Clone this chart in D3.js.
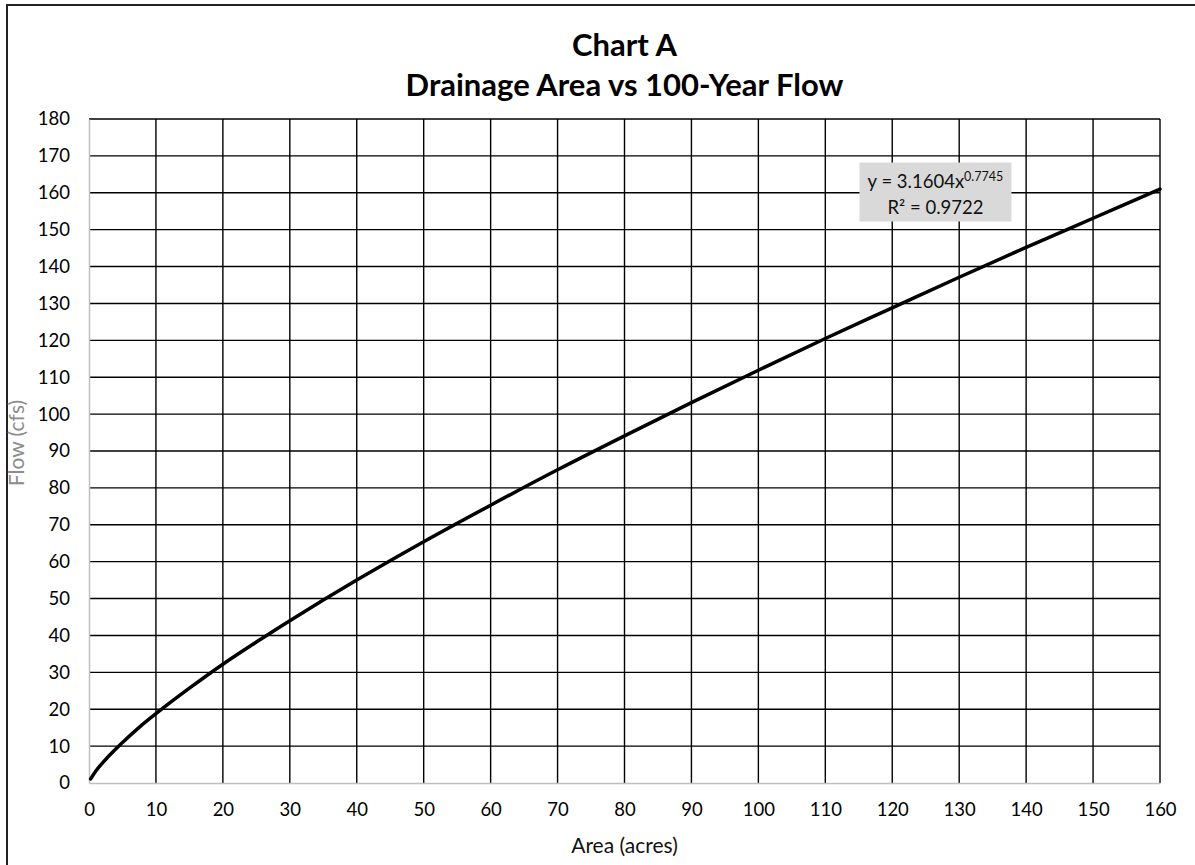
<!DOCTYPE html>
<html>
<head>
<meta charset="utf-8">
<script src="https://cdn.jsdelivr.net/npm/d3@7"></script>
<style>
    html, body { margin: 0; padding: 0; background: #fff; }
    svg { display: block; font-family: Lato, "Open Sans", sans-serif; }
</style>
</head>
<body>
<div id="chart"></div>
<script>
const areaAcres = [0.25, 1, 2, 3, 5, 7.5, 10, 15, 20, 25, 30, 40, 50, 60, 70, 80, 90, 100, 110, 120, 130, 140, 150, 160];
const flowCfs   = [1.1, 3.2, 5.4, 7.4, 11.0, 15.1, 18.8, 25.7, 32.2, 38.2, 44.0, 55.0, 65.4, 75.3, 84.9, 94.1, 103.1, 111.9, 120.5, 128.8, 137.1, 145.2, 153.1, 161.0];

const xTicks = [0, 10, 20, 30, 40, 50, 60, 70, 80, 90, 100, 110, 120, 130, 140, 150, 160];
const yTicks = [0, 10, 20, 30, 40, 50, 60, 70, 80, 90, 100, 110, 120, 130, 140, 150, 160, 170, 180];

const titleLines = ['Chart A', 'Drainage Area vs 100-Year Flow'];
const fitLabel = { coef: '3.1604', exp: '0.7745', r2: '0.9722' };

// Layout
const width = 1195, height = 865;
const margin = { top: 119, right: 35, bottom: 82, left: 89 };
const plotW = width - margin.left - margin.right;
const plotH = height - margin.top - margin.bottom;

const svg = d3.select('#chart')
    .append('svg')
    .attr('width', width)
    .attr('height', height);

// Outer chart frame (runs past the right/bottom edge like the source)
svg.append('rect')
    .attr('x', 7)
    .attr('y', 5)
    .attr('width', width + 20)
    .attr('height', height + 20)
    .attr('fill', 'none')
    .attr('stroke', '#222')
    .attr('stroke-width', 2);

const g = svg.append('g')
    .attr('transform', `translate(${margin.left},${margin.top})`);

// Scales
const x = d3.scaleLinear().domain([0, 160]).range([0, plotW]);
const y = d3.scaleLinear().domain([0, 180]).range([plotH, 0]);

// Gridlines
g.append('g')
    .selectAll('line')
    .data(yTicks.filter(d => d > 0))
    .enter()
    .append('line')
    .attr('x1', 0)
    .attr('x2', plotW)
    .attr('y1', d => y(d))
    .attr('y2', d => y(d))
    .attr('stroke', '#000')
    .attr('stroke-width', 1.4);

g.append('g')
    .selectAll('line')
    .data(xTicks.filter(d => d > 0))
    .enter()
    .append('line')
    .attr('x1', d => x(d))
    .attr('x2', d => x(d))
    .attr('y1', 0)
    .attr('y2', plotH)
    .attr('stroke', '#000')
    .attr('stroke-width', 1.4);

// Axes
const xAxis = g.append('g')
    .attr('transform', `translate(0,${plotH})`)
    .call(d3.axisBottom(x).tickValues(xTicks).tickSize(0).tickPadding(20));

const yAxis = g.append('g')
    .call(d3.axisLeft(y).tickValues(yTicks).tickSize(0).tickPadding(19));

[xAxis, yAxis].forEach(ax => {
    ax.select('.domain').attr('stroke', '#bfbfbf').attr('stroke-width', 1.5);
    ax.selectAll('text')
        .attr('font-family', 'Lato, "Open Sans", sans-serif')
        .attr('font-size', 18.5)
        .attr('fill', '#000');
});

// Trendline
const line = d3.line()
    .x((d, i) => x(areaAcres[i]))
    .y(d => y(d))
    .curve(d3.curveCatmullRom.alpha(0.5));

g.append('path')
    .datum(flowCfs)
    .attr('d', line)
    .attr('fill', 'none')
    .attr('stroke', '#000')
    .attr('stroke-width', 3.5)
    .attr('stroke-linecap', 'round');

// Equation label
const boxX = x(115.1), boxY = y(168.2);
svg.append('rect')
    .attr('x', margin.left + boxX)
    .attr('y', margin.top + boxY)
    .attr('width', 152)
    .attr('height', 59)
    .attr('fill', '#d9d9d9');

const eq = svg.append('text')
    .attr('x', margin.left + boxX + 76)
    .attr('y', margin.top + boxY + 25)
    .attr('text-anchor', 'middle')
    .attr('font-size', 18.5)
    .attr('fill', '#111');
eq.append('tspan').text(`y = ${fitLabel.coef}x`);
eq.append('tspan').attr('dy', -7).attr('font-size', 12.5).text(fitLabel.exp);

svg.append('text')
    .attr('x', margin.left + boxX + 76)
    .attr('y', margin.top + boxY + 51)
    .attr('text-anchor', 'middle')
    .attr('font-size', 18.5)
    .attr('fill', '#111')
    .text(`R² = ${fitLabel.r2}`);

// Title
svg.append('g')
    .selectAll('text')
    .data(titleLines)
    .enter()
    .append('text')
    .attr('x', margin.left + plotW / 2)
    .attr('y', (d, i) => 56 + i * 40)
    .attr('text-anchor', 'middle')
    .attr('font-size', 31)
    .attr('font-weight', 'bold')
    .attr('fill', '#000')
    .text(d => d);

// Axis titles
svg.append('text')
    .attr('x', margin.left + plotW / 2)
    .attr('y', 853)
    .attr('text-anchor', 'middle')
    .attr('font-size', 21)
    .attr('fill', '#111')
    .text('Area (acres)');

svg.append('text')
    .attr('transform', `translate(24,443) rotate(-90)`)
    .attr('text-anchor', 'middle')
    .attr('font-size', 21)
    .attr('fill', '#8c8c8c')
    .text('Flow (cfs)');
</script>
</body>
</html>
